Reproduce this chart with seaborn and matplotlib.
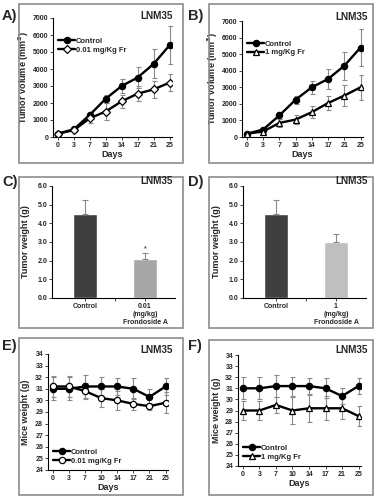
import numpy as np
import pandas as pd
import seaborn as sns
import matplotlib.pyplot as plt
from matplotlib.patches import Rectangle

# data
days = [0, 3, 7, 10, 14, 17, 21, 25]

vol_control = [200, 450, 1300, 2250, 3000, 3500, 4300, 5400]
vol_control_err = [60, 80, 200, 250, 400, 600, 850, 1100]
vol_low = [200, 400, 1100, 1500, 2100, 2550, 2800, 3200]
vol_low_err = [60, 80, 300, 500, 400, 450, 500, 500]
vol_high = [200, 330, 850, 1050, 1500, 2050, 2500, 3000]
vol_high_err = [60, 80, 250, 250, 350, 450, 650, 750]

wt_groups_low = ['Control', '0.01\n(mg/kg)\nFrondoside A']
wt_low = [4.5, 2.1]
wt_low_err = [0.75, 0.3]
wt_groups_high = ['Control', '1\n(mg/kg)\nFrondoside A']
wt_high = [4.5, 3.0]
wt_high_err = [0.75, 0.42]

mice_control = [31.0, 31.0, 31.2, 31.2, 31.2, 31.0, 30.3, 31.2]
mice_control_err = [1.0, 1.0, 1.0, 0.85, 0.75, 0.9, 0.7, 0.7]
mice_low = [31.2, 31.2, 30.8, 30.2, 30.0, 29.7, 29.5, 29.8]
mice_low_err = [0.9, 0.9, 0.7, 0.8, 0.8, 0.5, 0.3, 0.9]
mice_high = [29.0, 29.0, 29.5, 29.0, 29.2, 29.2, 29.2, 28.5]
mice_high_err = [0.9, 0.9, 0.7, 1.2, 1.2, 1.1, 1.0, 0.9]

sns.set_style('white')
plt.rcParams['font.family'] = ['Liberation Sans', 'DejaVu Sans']
plt.rcParams['font.weight'] = 'bold'

W, H = 377, 500
fig = plt.figure(figsize=(W / 100, H / 100), dpi=100)


def fax(x0, y0, x1, y1):
    # pixel box (top-left origin) -> axes
    return fig.add_axes([x0 / W, 1 - y1 / H, (x1 - x0) / W, (y1 - y0) / H])


def box(x0, y0, x1, y1):
    fig.patches.append(Rectangle((x0 / W, 1 - y1 / H), (x1 - x0) / W, (y1 - y0) / H,
                                 transform=fig.transFigure, fill=False,
                                 edgecolor='#8c8c8c', linewidth=1.2))


def ftext(x, y, s, size, ha='left'):
    fig.text(x / W, 1 - y / H, s, fontsize=size, fontweight='bold', ha=ha, va='center')


def style_ax(ax, ylab_px, x0, x1):
    for side in ['top', 'right']:
        ax.spines[side].set_visible(False)
    for side in ['left', 'bottom']:
        ax.spines[side].set_color('black')
        ax.spines[side].set_linewidth(0.8)
    ax.tick_params(labelsize=5.0, length=2, width=0.6, direction='out', pad=1.5,
                   left=True, bottom=True)
    for lab in ax.get_xticklabels() + ax.get_yticklabels():
        lab.set_fontweight('bold')
    # ylabel right edge at a given figure pixel
    ax.yaxis.set_label_coords((ylab_px - x0) / (x1 - x0), 0.5)


def line_panel(ax, ctrl, ctrl_err, trt, trt_err, trt_label, marker):
    pos = list(range(len(days)))
    for vals, errs in [(ctrl, ctrl_err), (trt, trt_err)]:
        ax.errorbar(pos, vals, yerr=errs, fmt='none', ecolor='#8a8a8a',
                    elinewidth=0.8, capsize=1.8, capthick=0.8, zorder=1)
    for vals, lab, mk, face in [(ctrl, 'Control', 'o', 'black'),
                                (trt, trt_label, marker, 'white')]:
        sns.lineplot(x=pos, y=vals, label=lab, color='black', marker=mk,
                     linewidth=1.7, markersize=4.5, markeredgecolor='black',
                     markerfacecolor=face, markeredgewidth=0.9, ax=ax, zorder=3)
    ax.set_xticks(pos)
    ax.set_xticklabels(days)
    ax.set_xlim(-0.3, 7.15)
    ax.set_xlabel('Days', fontsize=6.5, fontweight='bold', labelpad=1)


def bar_panel(ax, groups, vals, errs, light):
    df = pd.DataFrame({'group': groups, 'value': vals})
    sns.barplot(data=df, x='group', y='value', hue='group',
                palette=['#3f3f3f', light], width=0.4, legend=False, ax=ax)
    ax.errorbar(range(len(groups)), vals, yerr=[[0] * len(errs), errs], fmt='none',
                ecolor='#8a8a8a', elinewidth=0.8, capsize=2, capthick=0.8)
    ax.set_ylim(0, 6)
    ax.set_yticks(np.arange(0, 6.1, 1))
    ax.set_yticklabels([f'{v:.1f}' for v in np.arange(0, 6.1, 1)])
    ax.set_xlim(-0.55, 1.5)
    ax.set_xlabel('')
    ax.set_ylabel('Tumor weight (g)', fontsize=6.5, fontweight='bold')
    ax.set_xticks([0.5], minor=True)
    ax.tick_params(axis='x', which='major', length=0)
    ax.tick_params(axis='x', which='minor', length=2, width=0.6, bottom=True)


# panel boxes
box(19, 4, 183, 163)
box(209, 4, 373, 163)
box(19, 177, 183, 328)
box(209, 177, 373, 328)
box(19, 338, 183, 495)
box(209, 340, 373, 495)

# A / B : tumor volume
for (x0, y0, x1, y1), trt, err, lab, mk, lx in [
        ((53, 18, 172, 137), vol_low, vol_low_err, '0.01 mg/Kg Fr', 'D', 31),
        ((242, 21, 363, 137), vol_high, vol_high_err, '1 mg/Kg Fr', '^', 220)]:
    ax = fax(x0, y0, x1, y1)
    line_panel(ax, vol_control, vol_control_err, trt, err, lab, mk)
    ax.set_ylim(0, 7000)
    ax.set_yticks(range(0, 7001, 1000))
    ax.set_ylabel('Tumor volume (mm$^{3}$)', fontsize=6.5, fontweight='bold')
    style_ax(ax, lx, x0, x1)
    ax.legend(loc='upper left', bbox_to_anchor=(0.0, 0.88), frameon=False,
              handlelength=2.2, handletextpad=0.1, labelspacing=0.2,
              borderaxespad=0.3, prop={'weight': 'bold', 'size': 5.5})

# C / D : tumor weight
ax = fax(52, 186, 175, 298)
bar_panel(ax, wt_groups_low, wt_low, wt_low_err, '#a6a6a6')
ax.text(1, 2.55, '*', ha='center', fontsize=5, color='#555555')
style_ax(ax, 30, 52, 175)
ax = fax(243, 186, 366, 298)
bar_panel(ax, wt_groups_high, wt_high, wt_high_err, '#bfbfbf')
style_ax(ax, 221, 243, 366)

# E / F : mice weight
for (x0, y0, x1, y1), trt, err, lab, mk, lx in [
        ((48, 354, 168, 470), mice_low, mice_low_err, '0.01 mg/Kg Fr', 'o', 30),
        ((238, 355, 361, 466), mice_high, mice_high_err, '1 mg/Kg Fr', '^', 221)]:
    ax = fax(x0, y0, x1, y1)
    line_panel(ax, mice_control, mice_control_err, trt, err, lab, mk)
    ax.set_ylim(24, 34)
    ax.set_yticks(range(24, 35))
    ax.set_ylabel('Mice weight (g)', fontsize=6.5, fontweight='bold')
    style_ax(ax, lx, x0, x1)
    ax.legend(loc='lower left', frameon=False, handlelength=2.2,
              handletextpad=0.1, labelspacing=0.2, borderaxespad=0.3,
              prop={'weight': 'bold', 'size': 5.5})

# titles and panel letters
for x, y in [(173, 16), (368, 17), (173, 181), (368, 181), (173, 350), (368, 350)]:
    ftext(x, y, 'LNM35', 7.2, ha='right')
for x, y, s in [(2, 16, 'A)'), (188, 16, 'B)'), (2, 182, 'C)'), (188, 182, 'D)'),
                (2, 346, 'E)'), (188, 346, 'F)')]:
    ftext(x, y, s, 10.5)

fig.savefig('out.png', dpi=100)
